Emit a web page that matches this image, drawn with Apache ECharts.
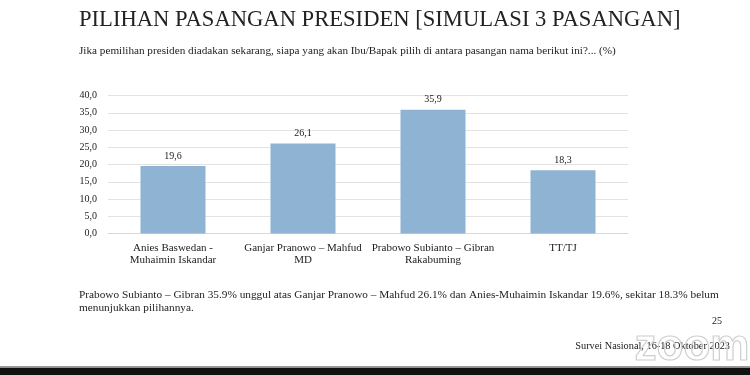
<!DOCTYPE html>
<html><head><meta charset="utf-8">
<script src="https://cdn.jsdelivr.net/npm/echarts@6/dist/echarts.min.js"></script>
<style>html,body{margin:0;padding:0;background:#fff}#c{width:750px;height:375px}</style>
</head><body><div id="c"></div>
<script>
var categories = ["Anies Baswedan -\nMuhaimin Iskandar", "Ganjar Pranowo \u2013 Mahfud\nMD", "Prabowo Subianto \u2013 Gibran\nRakabuming", "TT/TJ"];
var values = [19.6, 26.1, 35.9, 18.3];
var yTicks = [0, 5, 10, 15, 20, 25, 30, 35, 40];
var titleText = "PILIHAN PASANGAN PRESIDEN [SIMULASI 3 PASANGAN]";
var subtitleText = "Jika pemilihan presiden diadakan sekarang, siapa yang akan Ibu/Bapak pilih di antara pasangan nama berikut ini?... (%)";
var noteLines = ["Prabowo Subianto \u2013 Gibran 35.9% unggul atas Ganjar Pranowo \u2013 Mahfud 26.1% dan Anies-Muhaimin Iskandar 19.6%, sekitar 18.3% belum", "menunjukkan pilihannya."];
var pageNo = "25";
var sourceText = "Survei Nasional, 16-18 Oktober 2023";

var serif = "'Liberation Serif','DejaVu Serif',serif";
var chart = echarts.init(document.getElementById('c'), null, {renderer:'canvas'});
function fmt(v){return v.toFixed(1).replace('.', ',');}
chart.setOption({
  backgroundColor:'#fff',
  animation:false,
  grid:{left:108, right:122, top:95.5, bottom:141.5},
  xAxis:{type:'category', data:categories,
    axisLine:{lineStyle:{color:'#d9d9d9'}}, axisTick:{show:false},
    axisLabel:{fontFamily:serif, fontSize:11, color:'#222', lineHeight:12.5, margin:8, interval:0}},
  yAxis:{type:'value', min:yTicks[0], max:yTicks[yTicks.length-1], interval:5,
    axisLine:{show:false}, axisTick:{show:false},
    splitLine:{lineStyle:{color:'#e3e3e3'}},
    axisLabel:{fontFamily:serif, fontSize:10, color:'#222', margin:11, formatter:fmt}},
  series:[{type:'bar', data:values, barWidth:'50%',
    itemStyle:{color:'#8eb3d3'},
    label:{show:true, position:'top', distance:5, fontFamily:serif, fontSize:10, color:'#222', formatter:function(p){return fmt(p.value);}}}],
  graphic:[
    {type:'text', left:79, top:9, style:{text:titleText, font:"22.6px "+serif, fill:'#222'}},
    {type:'text', left:79, top:45.5, style:{text:subtitleText, font:"11.2px "+serif, fill:'#222'}},
    {type:'text', left:79, top:289, style:{text:noteLines.join('\n'), font:"11.3px "+serif, fill:'#222', lineHeight:12.5}},
    {type:'text', right:28, top:316, style:{text:pageNo, font:"10px "+serif, fill:'#222'}},
    {type:'text', right:20, top:341, style:{text:sourceText, font:"10.3px "+serif, fill:'#222'}},
    {type:'text', right:0, top:325, style:{text:'zoom', font:"bold 44px 'Liberation Sans',sans-serif", fill:'rgba(255,255,255,0)', stroke:'#cfcfcf', lineWidth:1.2}},
    {type:'rect', left:0, top:367.5, shape:{width:750, height:8}, style:{fill:'#111'}},
    {type:'rect', left:0, top:366, shape:{width:750, height:1.5}, style:{fill:'#999'}}
  ]
});
</script></body></html>
